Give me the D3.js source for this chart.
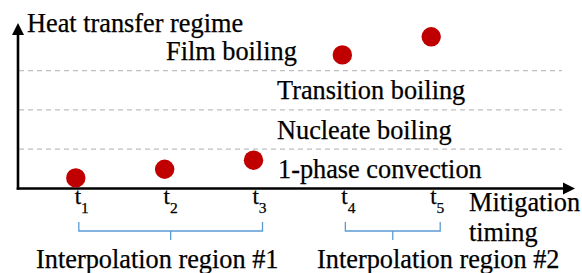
<!DOCTYPE html>
<html><head><meta charset="utf-8">
<script src="https://cdn.jsdelivr.net/npm/d3@7"></script>
<style>
body{margin:0;background:#fff}
svg{display:block}
text{stroke:#000;stroke-width:0.25px}
</style>
</head><body><svg id="c" width="582" height="273" font-family="Liberation Serif, Tinos, Times New Roman, Times, DejaVu Serif, serif"></svg>
<script>
// ---- data ----
const timingIndex = [1, 2, 3, 4, 5];
const timingSub = ["1", "2", "3", "4", "5"];
const regimeLevel = [0.27, 0.49, 0.72, 3.40, 3.86];
const regimes = ["1-phase convection", "Nucleate boiling", "Transition boiling", "Film boiling"];
const regionLabels = ["Interpolation region #1", "Interpolation region #2"];
const regionFrom = [1, 4];
const regionTo = [3, 5];
const yTitle = "Heat transfer regime";
const xTitle = ["Mitigation", "timing"];

// ---- layout ----
const svg = d3.select("#c");
const x0 = 18, yBase = 188.5;
const x = d3.scaleLinear().domain([1, 5]).range([75.8, 431.2]);
const y = d3.scaleLinear().domain([0, 4]).range([yBase, 31.3]);
const fs = 26.3;

// dashed regime boundaries
svg.selectAll("line.grid").data([1, 2, 3]).join("line")
  .attr("class", "grid")
  .attr("x1", x0 + 1).attr("x2", 562)
  .attr("y1", d => y(d)).attr("y2", d => y(d))
  .attr("stroke", "#bfbfbf").attr("stroke-width", 1.3)
  .attr("stroke-dasharray", "5,4");

// axes
svg.append("line").attr("x1", x0).attr("x2", x0).attr("y1", yBase + 1.2).attr("y2", 34)
  .attr("stroke", "#000").attr("stroke-width", 2.6);
svg.append("path").attr("d", `M${x0},23 L${x0 - 6},35 L${x0 + 6},35 Z`).attr("fill", "#000");
svg.append("line").attr("x1", x0 - 1.3).attr("x2", 564).attr("y1", yBase).attr("y2", yBase)
  .attr("stroke", "#000").attr("stroke-width", 2.6);
svg.append("path").attr("d", `M575,${yBase} L563,${yBase - 6} L563,${yBase + 6} Z`).attr("fill", "#000");

// titles
svg.append("text").attr("x", 27).attr("y", 32).attr("font-size", fs).text(yTitle);
svg.append("text").attr("x", 469).attr("y", 211).attr("font-size", fs).text(xTitle[0]);
svg.append("text").attr("x", 469).attr("y", 241).attr("font-size", fs).text(xTitle[1]);

// regime labels
const regimeX = [278, 277, 277, 166];
svg.selectAll("text.reg").data(regimes).join("text")
  .attr("class", "reg")
  .attr("x", (d, i) => regimeX[i])
  .attr("y", (d, i) => y(i + 0.5) + 9)
  .attr("font-size", fs)
  .text(d => d);

// points
svg.selectAll("circle.pt").data(timingIndex).join("circle")
  .attr("class", "pt")
  .attr("cx", d => x(d))
  .attr("cy", (d, i) => y(regimeLevel[i]))
  .attr("r", 9.7)
  .attr("fill", "#c00000");

// tick labels t_i
const tl = svg.selectAll("text.tk").data(timingIndex).join("text")
  .attr("class", "tk")
  .attr("x", d => x(d) + 6)
  .attr("y", 204)
  .attr("font-size", 23)
  .attr("text-anchor", "middle");
tl.append("tspan").text("t");
tl.append("tspan").attr("font-size", 15.5).attr("dy", 9).text((d, i) => timingSub[i]);

// brackets
const bTop = 222, bBot = 231, bTip = 240;
regionLabels.forEach((lab, i) => {
  const xa = x(regionFrom[i]) + 3, xb = x(regionTo[i]) + 9, xm = (xa + xb) / 2;
  svg.append("path")
    .attr("d", `M${xa},${bTop} L${xa},${bBot} L${xb},${bBot} L${xb},${bTop} M${xm},${bBot} L${xm},${bTip}`)
    .attr("fill", "none").attr("stroke", "#5b9bd5").attr("stroke-width", 1.3);
});
const regionLabelX = [36, 317];
svg.selectAll("text.rgn").data(regionLabels).join("text")
  .attr("class", "rgn")
  .attr("x", (d, i) => regionLabelX[i])
  .attr("y", 268)
  .attr("font-size", fs)
  .text(d => d);
</script>
</body></html>
